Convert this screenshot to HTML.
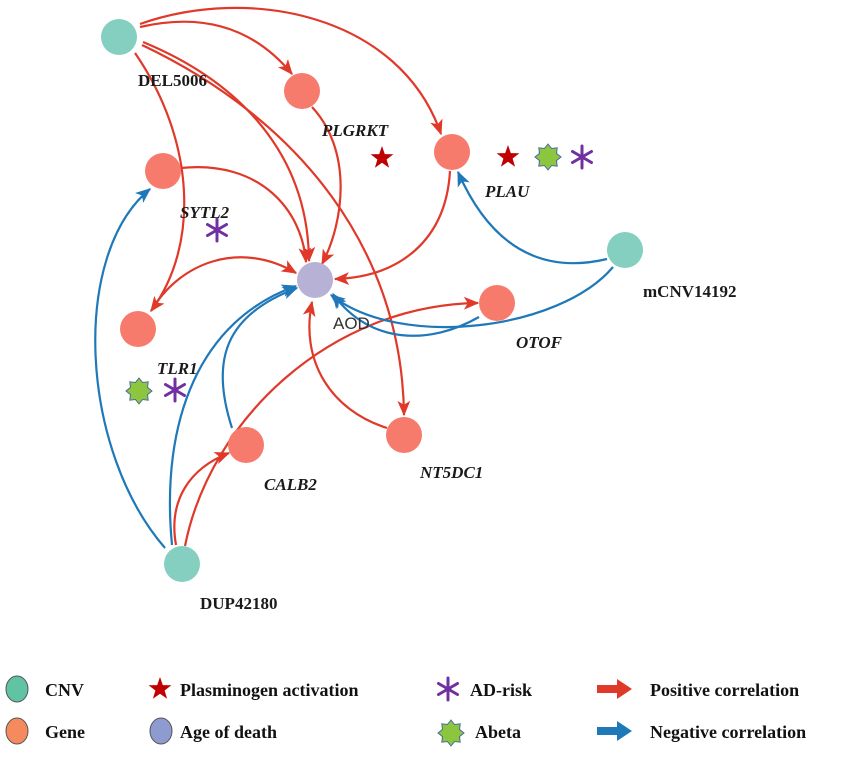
<!DOCTYPE html>
<html><head><meta charset="utf-8"><style>
html,body{margin:0;padding:0;background:#fff;}
svg{display:block;}
.lb{font-family:"Liberation Serif",serif;font-weight:bold;font-size:17px;fill:#1a1a1a;}
.it{font-family:"Liberation Serif",serif;font-weight:bold;font-style:italic;font-size:17px;fill:#1a1a1a;}
.lg{font-family:"Liberation Serif",serif;font-weight:bold;font-size:18px;fill:#111;}
.r{fill:none;stroke:#e0392a;stroke-width:2.2;marker-end:url(#ar);}
.b{fill:none;stroke:#1f78b8;stroke-width:2.2;marker-end:url(#ab);}
</style></head><body>
<svg width="851" height="759" viewBox="0 0 851 759" xmlns="http://www.w3.org/2000/svg">
<defs>
<marker id="ar" viewBox="0 0 12 10" refX="11" refY="5" markerWidth="7" markerHeight="6" orient="auto" markerUnits="strokeWidth"><path d="M0,0 L12,5 L0,10 L3,5 z" fill="#e0392a"/></marker>
<marker id="ab" viewBox="0 0 12 10" refX="11" refY="5" markerWidth="7" markerHeight="6" orient="auto" markerUnits="strokeWidth"><path d="M0,0 L12,5 L0,10 L3,5 z" fill="#1f78b8"/></marker>
<g id="ast"><g stroke="#7030a0" stroke-width="3" stroke-linecap="round"><line x1="0" y1="-11" x2="0" y2="11"/><line x1="-9.5" y1="-5.5" x2="9.5" y2="5.5"/><line x1="-9.5" y1="5.5" x2="9.5" y2="-5.5"/></g></g>
<polygon id="star" points="0,-12 2.8,-3.9 11.4,-3.7 4.6,1.5 7.1,9.7 0,4.8 -7.1,9.7 -4.6,1.5 -11.4,-3.7 -2.8,-3.9" fill="#c00000"/>
<polygon id="abeta" points="0,-13 3.6,-8.5 9.2,-9.2 8.5,-3.6 13,0 8.5,3.6 9.2,9.2 3.6,8.5 0,13 -3.6,8.5 -9.2,9.2 -8.5,3.6 -13,0 -8.5,-3.6 -9.2,-9.2 -3.6,-8.5" fill="#8cc63f" stroke="#4a6a9a" stroke-width="1"/>
</defs>

<!-- red edges -->
<path class="r" d="M140,27 Q235,5 292,74"/>
<path class="r" d="M140,24 C250,-15 400,15 441,134"/>
<path class="r" d="M143,42 C235,80 308,150 309,261"/>
<path class="r" d="M142,45 C300,120 402,250 404,415"/>
<path class="r" d="M135,53 C195,140 200,245 151,311"/>
<path class="r" d="M151,311 C180,262 240,240 296,273"/>
<path class="r" d="M181,168 C260,160 302,210 306,262"/>
<path class="r" d="M312,107 C352,150 345,220 322,264"/>
<path class="r" d="M450,171 C446,240 400,277 335,279"/>
<path class="r" d="M387,428 C330,410 300,360 312,302"/>
<path class="r" d="M176,545 C168,500 190,468 229,453"/>
<path class="r" d="M185,546 C210,420 330,305 478,303"/>
<!-- blue edges -->
<path class="b" d="M165,548 C80,450 70,255 150,189"/>
<path class="b" d="M172,545 C160,420 200,320 296,286"/>
<path class="b" d="M232,428 C210,360 225,315 297,288"/>
<path class="b" d="M607,259 C540,275 490,245 458,172"/>
<path class="b" d="M613,267 C560,330 400,350 331,295"/>
<path class="b" d="M479,317 C430,345 370,345 333,294"/>

<!-- nodes -->
<circle cx="119" cy="37" r="18" fill="#84cfc0"/>
<circle cx="625" cy="250" r="18" fill="#84cfc0"/>
<circle cx="182" cy="564" r="18" fill="#84cfc0"/>
<circle cx="302" cy="91" r="18" fill="#f77b6d"/>
<circle cx="452" cy="152" r="18" fill="#f77b6d"/>
<circle cx="163" cy="171" r="18" fill="#f77b6d"/>
<circle cx="138" cy="329" r="18" fill="#f77b6d"/>
<circle cx="497" cy="303" r="18" fill="#f77b6d"/>
<circle cx="246" cy="445" r="18" fill="#f77b6d"/>
<circle cx="404" cy="435" r="18" fill="#f77b6d"/>
<circle cx="315" cy="280" r="18" fill="#b8b1d6"/>

<!-- labels -->
<text class="lb" x="138" y="86">DEL5006</text>
<text class="it" x="322" y="136">PLGRKT</text>
<text class="it" x="485" y="197">PLAU</text>
<text class="it" x="180" y="218">SYTL2</text>
<text class="it" x="157" y="374">TLR1</text>
<text class="it" x="516" y="348">OTOF</text>
<text class="lb" x="643" y="297">mCNV14192</text>
<text class="it" x="264" y="490">CALB2</text>
<text class="it" x="420" y="478">NT5DC1</text>
<text class="lb" x="200" y="609">DUP42180</text>
<text x="333" y="329" font-family="Liberation Sans,sans-serif" font-size="17" fill="#333">AOD</text>

<use href="#star" x="382" y="158"/>
<use href="#star" x="508" y="157"/>
<use href="#abeta" x="548" y="157"/>
<use href="#ast" x="582" y="157"/>
<use href="#ast" x="217" y="230"/>
<use href="#abeta" x="139" y="391"/>
<use href="#ast" x="175" y="390"/>

<!-- legend -->
<ellipse cx="17" cy="689" rx="11" ry="13" fill="#5fc3a4" stroke="#555" stroke-width="1"/>
<text class="lg" x="45" y="696">CNV</text>
<ellipse cx="17" cy="731" rx="11" ry="13" fill="#f58a5f" stroke="#555" stroke-width="1"/>
<text class="lg" x="45" y="738">Gene</text>
<use href="#star" x="160" y="689"/>
<text class="lg" x="180" y="696">Plasminogen  activation</text>
<ellipse cx="161" cy="731" rx="11" ry="13" fill="#8e9bd0" stroke="#555" stroke-width="1"/>
<text class="lg" x="180" y="738">Age of death</text>
<use href="#ast" x="448" y="689"/>
<text class="lg" x="470" y="696">AD-risk</text>
<use href="#abeta" x="451" y="733"/>
<text class="lg" x="475" y="738">Abeta</text>
<path d="M597,685 H617 V679 L632,689 L617,699 V693 H597 z" fill="#e0392a"/>
<text class="lg" x="650" y="696">Positive correlation</text>
<path d="M597,727 H617 V721 L632,731 L617,741 V735 H597 z" fill="#1f78b8"/>
<text class="lg" x="650" y="738">Negative correlation</text>
</svg>
</body></html>
